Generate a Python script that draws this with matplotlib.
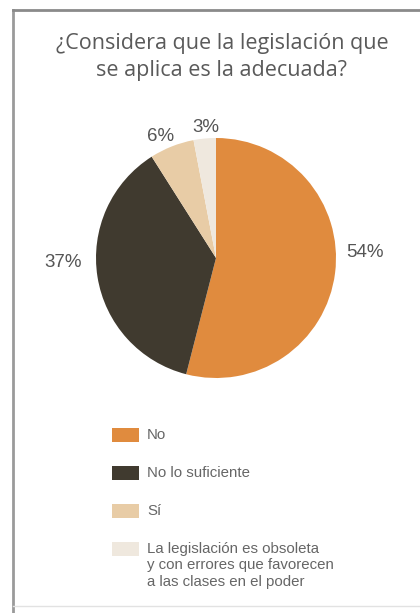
import numpy as np
import matplotlib
matplotlib.use("Agg")
import matplotlib.pyplot as plt
from matplotlib.patches import Rectangle
from matplotlib.lines import Line2D

title = "¿Considera que la legislación que\nse aplica es la adecuada?"
categories = ["No", "No lo suficiente", "Sí",
              "La legislación es obsoleta\ny con errores que favorecen\na las clases en el poder"]
values = [54, 37, 6, 3]
colors = ["#E08B3E", "#403A2F", "#E8CCA6", "#EFE8DE"]
# label placement style (distance factor, angle offset in degrees)
label_dist = [1.24, 1.275, 1.11, 1.09]
label_shift = [9.5, -7.5, 2.8, -1.0]

W, H = 420, 613
fig = plt.figure(figsize=(W / 100, H / 100), dpi=100)
fig.patch.set_facecolor("white")

# frame lines
frame = fig.add_axes([0, 0, 1, 1])
frame.set_xlim(0, W)
frame.set_ylim(H, 0)
frame.axis("off")
frame.add_line(Line2D([13, 13], [10, H], color="#9a9a9a", lw=2.0))
frame.add_line(Line2D([13, W], [10, 10], color="#8a8a8a", lw=2.0))
frame.add_line(Line2D([13, W], [606, 606], color="#e2e2e2", lw=1.0))

fig.text(222 / W, 1 - 57 / H, title, ha="center", va="center",
         fontsize=15.5, color="#5a5a5a", family=["Open Sans", "DejaVu Sans"],
         linespacing=1.35)

cx, cy, r = 216, 258, 120
ax = fig.add_axes([(cx - r) / W, 1 - (cy + r) / H, 2 * r / W, 2 * r / H])
wedges, _ = ax.pie(values, colors=colors, startangle=90, counterclock=False,
                   wedgeprops=dict(linewidth=0))
ax.set_xlim(-1, 1)
ax.set_ylim(-1, 1)
ax.set_aspect("equal")
ax.axis("off")

for w, v, d, s in zip(wedges, values, label_dist, label_shift):
    ang = np.deg2rad((w.theta1 + w.theta2) / 2 + s)
    ax.text(d * np.cos(ang), d * np.sin(ang), f"{v}%", ha="center", va="center",
            fontsize=13.5, color="#555555", family=["Liberation Sans", "DejaVu Sans"],
            clip_on=False)

# legend
y0, step = 435, 38
for i, (cat, col) in enumerate(zip(categories, colors)):
    yc = y0 + i * step
    frame.add_patch(Rectangle((112, yc - 7), 27, 14, facecolor=col,
                              edgecolor="none"))
    frame.text(147, yc - 7, cat, ha="left", va="top", fontsize=10.8,
               color="#666666", family=["Liberation Sans", "DejaVu Sans"],
               linespacing=1.22)

fig.savefig("out.png", dpi=100, facecolor="white")
